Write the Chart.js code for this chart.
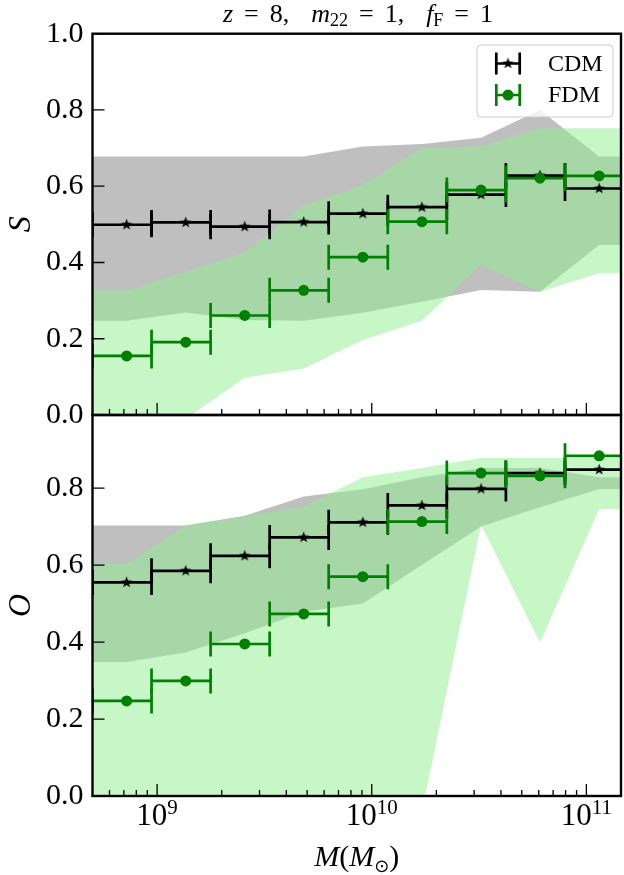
<!DOCTYPE html>
<html>
<head>
<meta charset="utf-8">
<script src="https://cdn.jsdelivr.net/npm/chart.js@4.4.1/dist/chart.umd.min.js"></script>
<style>
  body { margin: 0; background: #fff; }
  #wrap { position: relative; width: 624px; height: 875px; }
  #wrap canvas { position: absolute; left: 0; }
</style>
</head>
<body>
<div id="wrap">
  <canvas id="topChart" width="624" height="450" style="top:0"></canvas>
  <canvas id="bottomChart" width="624" height="495" style="top:380px"></canvas>
</div>
<script>
// mass bins (M_sun): edges and bin centres
const binEdges = [5.0e8, 9.42e8, 1.775e9, 3.345e9, 6.30e9, 1.188e10, 2.238e10, 4.217e10, 7.95e10, 1.498e11]
const binCenters = [7.21e8, 1.359e9, 2.56e9, 4.82e9, 9.09e9, 1.713e10, 3.23e10, 6.08e10, 1.147e11]

// S panel
const sCDM = [0.499, 0.505, 0.494, 0.506, 0.528, 0.545, 0.578, 0.628, 0.594]
const sFDM = [0.155, 0.191, 0.261, 0.327, 0.414, 0.507, 0.590, 0.621, 0.627]
const sCDMHigh = [0.678, 0.678, 0.678, 0.678, 0.704, 0.711, 0.727, 0.800, 0.678]
const sCDMLow = [0.247, 0.269, 0.249, 0.247, 0.268, 0.297, 0.328, 0.323, 0.446]
const sFDMHigh = [0.327, 0.376, 0.426, 0.551, 0.604, 0.700, 0.705, 0.752, 0.752]
const sFDMLow = [0.0, -0.01, 0.098, 0.122, 0.197, 0.247, 0.394, 0.323, 0.372]

// O panel
const oCDM = [0.555, 0.585, 0.624, 0.672, 0.711, 0.755, 0.798, 0.839, 0.848]
const oFDM = [0.247, 0.299, 0.395, 0.473, 0.570, 0.713, 0.839, 0.832, 0.884]
const oCDMHigh = [0.703, 0.703, 0.728, 0.778, 0.797, 0.828, 0.852, 0.852, 0.828]
const oCDMLow = [0.348, 0.373, 0.423, 0.479, 0.500, 0.600, 0.700, 0.750, 0.798]
const oFDMHigh = [0.603, 0.703, 0.727, 0.752, 0.828, 0.852, 0.878, 0.878, 0.878]
const oFDMLow = [0.0, 0.0, 0.0, 0.0, 0.0, -0.04, 0.705, 0.399, 0.745]

// axes
const xMin = 5.0e8
const xMax = 1.45e11
const xMajorTicks = [1e9, 1e10, 1e11]
const xTickExps = ["9", "10", "11"]
const xMinorTicks = [6e8, 7e8, 8e8, 9e8, 2e9, 3e9, 4e9, 5e9, 6e9, 7e9, 8e9, 9e9,
  2e10, 3e10, 4e10, 5e10, 6e10, 7e10, 8e10, 9e10]
const yTicksS = [0, 0.2, 0.4, 0.6, 0.8, 1.0]
const yTicksO = [0, 0.2, 0.4, 0.6, 0.8]

const SERIF = "'Liberation Serif', 'DejaVu Serif', serif"
const GREEN = "#008000"

// filled five-point star, like matplotlib's "*"
const starImg = (() => {
  const c = document.createElement("canvas")
  c.width = 13; c.height = 13
  const g = c.getContext("2d")
  g.fillStyle = "#000"
  g.beginPath()
  for (let i = 0; i < 10; i++) {
    const r = i % 2 ? 2.4 : 6.0
    const a = -Math.PI / 2 + i * Math.PI / 5
    g.lineTo(6.5 + r * Math.cos(a), 6.5 + r * Math.sin(a))
  }
  g.closePath()
  g.fill()
  return c
})()

function bandPoints(values) {
  const pts = [{ x: binEdges[0], y: values[0] }]
  binCenters.forEach((x, i) => pts.push({ x, y: values[i] }))
  pts.push({ x: binEdges[binEdges.length - 1], y: values[values.length - 1] })
  return pts
}

function errorBarPoints(values) {
  const pts = []
  values.forEach((v, i) => {
    pts.push({ x: binEdges[i], y: v }, { x: binEdges[i + 1], y: v }, { x: binEdges[i + 1], y: null })
  })
  return pts
}

function markerPoints(values) {
  return binCenters.map((x, i) => ({ x, y: values[i] }))
}

function buildDatasets(cdm, fdm, cdmHi, cdmLo, fdmHi, fdmLo) {
  const band = (data, color, fill, order) => ({
    data, borderColor: "rgba(0,0,0,0)", borderWidth: 0, pointRadius: 0,
    backgroundColor: color, fill, tension: 0, order
  })
  const bars = (data, color, order) => ({
    data, borderColor: color, borderWidth: 2.7, showLine: true, spanGaps: false,
    pointStyle: "line", pointRotation: 90, pointRadius: 12.5,
    pointBorderColor: color, pointBorderWidth: 2.7, fill: false, tension: 0, order
  })
  return [
    band(bandPoints(cdmHi), "rgba(128,128,128,0.5)", "+1", 12),
    band(bandPoints(cdmLo), "rgba(0,0,0,0)", false, 13),
    band(bandPoints(fdmHi), "rgba(144,238,144,0.5)", "+1", 10),
    band(bandPoints(fdmLo), "rgba(0,0,0,0)", false, 11),
    bars(errorBarPoints(cdm), "#000", 6),
    { data: markerPoints(cdm), showLine: false, pointStyle: starImg, pointRadius: 6, order: 5 },
    bars(errorBarPoints(fdm), GREEN, 4),
    { data: markerPoints(fdm), showLine: false, pointStyle: "circle", pointRadius: 5.5,
      pointBackgroundColor: GREEN, pointBorderWidth: 0, order: 3 }
  ]
}

// inward ticks + frame
function panelDecor(yTicks) {
  return {
    id: "panelDecor",
    afterDatasetsDraw(chart) {
      const { ctx, chartArea: a, scales } = chart
      ctx.save()
      ctx.strokeStyle = "#000"
      ctx.lineWidth = 1.3
      ctx.beginPath()
      yTicks.forEach(v => {
        const y = scales.y.getPixelForValue(v)
        ctx.moveTo(a.left, y); ctx.lineTo(a.left + 12, y)
      })
      xMajorTicks.forEach(v => {
        const x = scales.x.getPixelForValue(v)
        ctx.moveTo(x, a.bottom); ctx.lineTo(x, a.bottom - 12)
      })
      xMinorTicks.forEach(v => {
        const x = scales.x.getPixelForValue(v)
        ctx.moveTo(x, a.bottom); ctx.lineTo(x, a.bottom - 6)
      })
      ctx.stroke()
      ctx.lineWidth = 2.4
      ctx.strokeRect(a.left, a.top, a.right - a.left, a.bottom - a.top)
      ctx.restore()
    }
  }
}

// draw a row of text pieces centred at cx; {gap: n} pieces are blank space,
// stretched so the whole row is `width` wide when width is given
function drawPieces(ctx, pieces, cx, baseline, width) {
  let total = 0, gaps = 0
  pieces.forEach(p => {
    if (p.gap) { gaps += p.gap; return }
    ctx.font = p.font; p.w = ctx.measureText(p.text).width; total += p.w
  })
  const unit = width && gaps ? Math.max(width - total, 0) / gaps : 0
  pieces.forEach(p => { if (p.gap) { p.w = p.gap * unit; total += p.w } })
  let x = cx - total / 2
  ctx.textAlign = "left"
  ctx.textBaseline = "alphabetic"
  pieces.forEach(p => {
    if (!p.gap) {
      ctx.font = p.font
      ctx.fillText(p.text, x, baseline + (p.dy || 0))
    }
    x += p.w
  })
}

const topText = {
  id: "topText",
  afterDraw(chart) {
    const { ctx } = chart
    ctx.save()
    ctx.fillStyle = "#000"
    const it = "italic 26px " + SERIF, rm = "26px " + SERIF, sub = "18px " + SERIF
    drawPieces(ctx, [
      { text: "z", font: it }, { gap: 1 }, { text: "=", font: rm }, { gap: 1 }, { text: "8,", font: rm }, { gap: 2 },
      { text: "m", font: it }, { text: "22", font: sub, dy: 4 }, { gap: 1 }, { text: "=", font: rm }, { gap: 1 },
      { text: "1,", font: rm }, { gap: 2 },
      { text: "f", font: it }, { text: "F", font: sub, dy: 4 }, { gap: 1 }, { text: "=", font: rm }, { gap: 1 },
      { text: "1", font: rm }
    ], 358, 22, 270)

    // legend
    const bx = 477, by = 45, bw = 136, bh = 72, r = 4
    ctx.beginPath()
    ctx.moveTo(bx + r, by)
    ctx.arcTo(bx + bw, by, bx + bw, by + bh, r)
    ctx.arcTo(bx + bw, by + bh, bx, by + bh, r)
    ctx.arcTo(bx, by + bh, bx, by, r)
    ctx.arcTo(bx, by, bx + bw, by, r)
    ctx.closePath()
    ctx.fillStyle = "rgba(255,255,255,0.8)"
    ctx.fill()
    ctx.strokeStyle = "#cccccc"
    ctx.lineWidth = 1
    ctx.stroke()

    const items = [
      { label: "CDM", color: "#000", y: 63.5, star: true },
      { label: "FDM", color: GREEN, y: 95, star: false }
    ]
    items.forEach(item => {
      const cx = 508, half = 11.7
      ctx.strokeStyle = item.color
      ctx.lineWidth = 2.7
      ctx.beginPath()
      ctx.moveTo(cx - half, item.y); ctx.lineTo(cx + half, item.y)
      ctx.moveTo(cx - half, item.y - 11); ctx.lineTo(cx - half, item.y + 11)
      ctx.moveTo(cx + half, item.y - 11); ctx.lineTo(cx + half, item.y + 11)
      ctx.stroke()
      if (item.star) {
        ctx.drawImage(starImg, cx - starImg.width / 2, item.y - starImg.height / 2)
      } else {
        ctx.fillStyle = item.color
        ctx.beginPath(); ctx.arc(cx, item.y, 5.5, 0, Math.PI * 2); ctx.fill()
      }
      ctx.fillStyle = "#000"
      ctx.font = "24px " + SERIF
      ctx.textAlign = "left"
      ctx.textBaseline = "middle"
      ctx.fillText(item.label, 548, item.y + 1)
    })
    ctx.restore()
  }
}

const bottomText = {
  id: "bottomText",
  afterDraw(chart) {
    const { ctx, chartArea: a, scales } = chart
    ctx.save()
    ctx.fillStyle = "#000"
    const base = a.bottom + 29
    xMajorTicks.forEach((v, i) => {
      drawPieces(ctx, [
        { text: "10", font: "31px " + SERIF },
        { text: xTickExps[i], font: "21px " + SERIF, dy: -11 }
      ], scales.x.getPixelForValue(v), base)
    })
    drawPieces(ctx, [
      { text: "M", font: "italic 30px " + SERIF },
      { text: "(", font: "30px " + SERIF },
      { text: "M", font: "italic 30px " + SERIF },
      { text: "\u2299", font: "18px 'DejaVu Sans', " + SERIF, dy: 6 },
      { text: ")", font: "30px " + SERIF }
    ], (a.left + a.right) / 2, a.bottom + 70)
    ctx.restore()
  }
}

function makeOptions(yMax, yTicks, yTitle, xHeight, padTop) {
  return {
    responsive: false,
    animation: false,
    events: [],
    layout: { autoPadding: false, padding: { left: 0, top: padTop, right: 3, bottom: 0 } },
    plugins: { legend: { display: false }, tooltip: { enabled: false } },
    scales: {
      x: {
        type: "logarithmic", min: xMin, max: xMax,
        grid: { display: false, drawTicks: false }, border: { display: false },
        ticks: { display: false },
        afterFit: s => { s.height = xHeight }
      },
      y: {
        type: "linear", min: 0, max: yMax,
        grid: { display: false, drawTicks: false }, border: { display: false },
        afterBuildTicks: s => { s.ticks = yTicks.map(v => ({ value: v })) },
        ticks: {
          color: "#000", padding: 9, font: { family: SERIF, size: 30 },
          callback: v => Number(v).toFixed(1)
        },
        title: {
          display: true, text: yTitle, color: "#000",
          font: { family: SERIF, size: 32, style: "italic" }, padding: { top: 2, bottom: 0 }
        },
        afterFit: s => { s.width = 92.5 }
      }
    }
  }
}

function initTopChart() {
  new Chart(document.getElementById("topChart"), {
    type: "line",
    data: { datasets: buildDatasets(sCDM, sFDM, sCDMHigh, sCDMLow, sFDMHigh, sFDMLow) },
    options: makeOptions(1.0, yTicksS, "S", 35, 33.7),
    plugins: [panelDecor(yTicksS), topText]
  })
}

function initBottomChart() {
  new Chart(document.getElementById("bottomChart"), {
    type: "line",
    data: { datasets: buildDatasets(oCDM, oFDM, oCDMHigh, oCDMLow, oFDMHigh, oFDMLow) },
    options: makeOptions(0.99, yTicksO, "O", 79, 35),
    plugins: [panelDecor(yTicksO), bottomText]
  })
}

initTopChart()
initBottomChart()
</script>
</body>
</html>
